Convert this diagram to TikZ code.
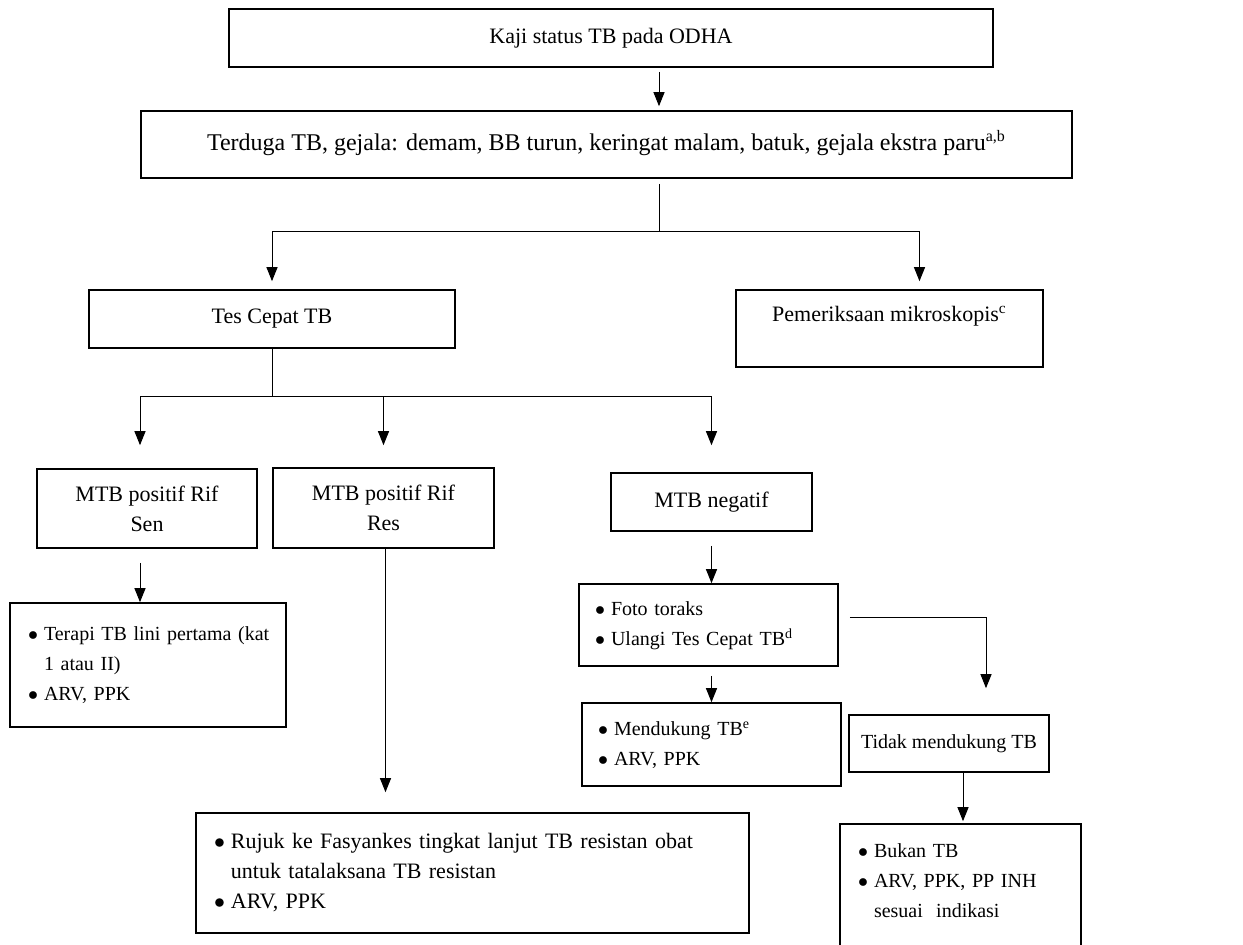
\documentclass[tikz,border=0pt]{standalone}
\usepackage{fontspec}
\setmainfont{Liberation Serif}
\usetikzlibrary{arrows.meta,calc}

\tikzset{
  kotak/.style={draw, line width=0.8pt, inner sep=0pt, align=center, font=\fontsize{11}{15}\selectfont},
  kecil/.style={font=\fontsize{10}{15}\selectfont},
  daftar/.style={kotak, kecil, align=left, inner xsep=9pt},
  panah/.style={-{Triangle[length=7pt,width=5.5pt]}, line width=0.5pt},
  garis/.style={line width=0.5pt}
}
\newcommand{\butir}[1]{\noindent\begin{tabular}{@{}l@{\hspace{3pt}}l@{}}#1\end{tabular}}
\newcommand{\bul}{$\bullet$}

\begin{document}
\begin{tikzpicture}[x=0.5pt, y=-0.5pt]
\useasboundingbox (0,0) rectangle (1243,945);
\clip (0,0) rectangle (1243,945);
\node[kotak, minimum width=382pt, minimum height=29pt] (kaji) at (611,38) {Kaji status TB pada ODHA};
\node[kotak, font=\fontsize{12}{15}\selectfont, minimum width=465.5pt, minimum height=33.5pt] (duga) at (606.5,144.5) {Terduga TB, gejala: demam, BB turun, keringat malam, batuk, gejala ekstra paru\textsuperscript{a,b}\rule[-4pt]{0pt}{4pt}};
\node[kotak, minimum width=183pt, minimum height=29pt] (tcm) at (272,319) {Tes Cepat TB};
\node[kotak, minimum width=153.5pt, minimum height=38.5pt] (mikro) at (889.5,328.5) {Pemeriksaan mikroskopis\textsuperscript{c}\\ \phantom{x}};
\node[kotak, minimum width=110pt, minimum height=39.5pt] (rifsen) at (147,508.5) {MTB positif Rif\\Sen};
\node[kotak, minimum width=110.5pt, minimum height=40pt] (rifres) at (383.5,508) {MTB positif Rif\\Res};
\node[kotak, minimum width=100.5pt, minimum height=29pt] (negatif) at (711.5,502) {MTB negatif};
\node[daftar, text width=120pt, minimum height=62pt] (terapi) at (148,665) {\butir{\bul & Terapi TB lini pertama (kat\\ & 1 atau II)\\ \bul & ARV, PPK}};
\node[daftar, font=\fontsize{11}{15}\selectfont, text width=258.5pt, minimum height=60pt] (rujuk) at (472.5,873) {\butir{\bul & Rujuk ke Fasyankes tingkat lanjut TB resistan obat\\ & untuk tatalaksana TB resistan\\ \bul & ARV, PPK}};
\node[daftar, inner xsep=8pt, text width=113.5pt, minimum height=41pt] (foto) at (708.5,625) {\butir{\bul & Foto toraks\\ \bul & Ulangi Tes Cepat TB\textsuperscript{d}}};
\node[daftar, inner xsep=8pt, text width=113.5pt, minimum height=41.5pt] (dukung) at (711.5,744.5) {\butir{\bul & Mendukung TB\textsuperscript{e}\\ \bul & ARV, PPK}};
\node[kotak, kecil, minimum width=100pt, minimum height=28.5pt] (tidak) at (949,743.5) {Tidak mendukung TB};
\node[daftar, text width=102.5pt, minimum height=73pt] (bukan) at (960.5,897) {\butir{\bul & Bukan TB\\ \bul & ARV, PPK, PP INH\\ & sesuai\ \ indikasi\\ & }};
\coordinate (cabang1) at (659,232);
\coordinate (cabang2) at ($(tcm.south)+(0,48)$);
\draw[panah, shorten <=2pt, shorten >=2pt] (kaji.south -| cabang1) -- (duga.north -| cabang1);
\draw[garis, shorten <=2.5pt] (duga.south -| cabang1) -- (cabang1);
\draw[panah, shorten >=4pt] (cabang1) -| (tcm.north);
\draw[panah, shorten >=4pt] (cabang1) -| ([xshift=15pt]mikro.north);
\draw[garis] (tcm.south) -- (cabang2);
\draw[panah, shorten >=11.5pt] (cabang2) -| ([xshift=-3.5pt]rifsen.north);
\draw[panah, shorten >=11pt] (cabang2) -| (rifres.north);
\draw[panah, shorten >=13.5pt] (cabang2) -| (negatif.north);
\draw[panah, shorten <=7pt] ([xshift=-3.5pt]rifsen.south) -- ([xshift=-3.5pt]rifsen.south |- terapi.north);
\draw[panah, shorten >=10pt] ([xshift=1pt]rifres.south) -- ([xshift=1pt]rifres.south |- rujuk.north);
\draw[panah, shorten <=7pt] (negatif.south) -- (negatif.south |- foto.north);
\draw[panah, shorten <=4.5pt] (negatif.south |- foto.south) -- (negatif.south |- dukung.north);
\draw[panah, shorten <=5.5pt, shorten >=13pt] ([yshift=3.5pt]foto.east) -| ([xshift=18.5pt]tidak.north);
\draw[panah, shorten >=1pt] ([xshift=7pt]tidak.south) -- ([xshift=7pt]tidak.south |- bukan.north);
\end{tikzpicture}
\end{document}
